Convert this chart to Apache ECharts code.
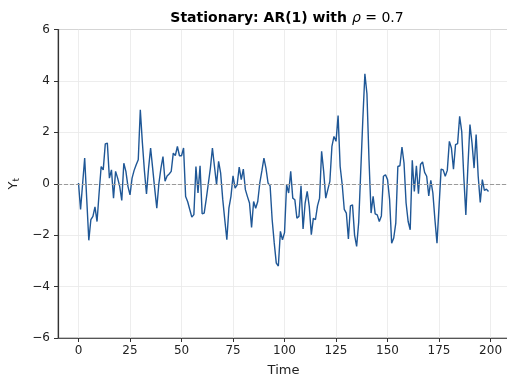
<!DOCTYPE html>
<html>
<head>
<meta charset="utf-8">
<script src="https://cdn.jsdelivr.net/npm/echarts@6/dist/echarts.min.js"></script>
<style>
  html, body { margin: 0; padding: 0; background: #fff; }
  #chart { width: 507px; height: 377px; }
</style>
</head>
<body>
<div id="chart"></div>
<script>
// AR(1) serie, rho = 0.7, t = 0..199
var yValues = [
  0.03, -1.0, 0.0, 1.0, -0.6, -2.2, -1.4, -1.27, -0.9, -1.47,
  -0.36, 0.67, 0.54, 1.55, 1.58, 0.22, 0.54, -0.56, 0.48, 0.22,
  -0.1, -0.65, 0.8, 0.48, -0.1, -0.43, 0.22, 0.52, 0.74, 0.93,
  2.88, 1.6, 0.5, -0.4, 0.6, 1.39, 0.6, -0.2, -0.95, 0.0,
  0.6, 1.06, 0.1, 0.3, 0.38, 0.48, 1.19, 1.1, 1.45, 1.09,
  1.09, 1.39, -0.5, -0.7, -1.0, -1.3, -1.2, 0.67, -0.36, 0.7,
  -1.17, -1.14, -0.6, 0.0, 0.6, 1.39, 0.67, -0.04, 0.87, 0.41,
  -0.6, -1.4, -2.18, -0.95, -0.49, 0.31, -0.17, -0.04, 0.65, 0.16,
  0.57, -0.23, -0.5, -0.75, -1.7, -0.69, -0.95, -0.69, 0.03, 0.5,
  1.0, 0.6, 0.03, -0.08, -1.4, -2.3, -3.09, -3.2, -1.85, -2.18,
  -1.9, -0.04, -0.36, 0.48, -0.56, -0.62, -1.34, -1.27, -0.08, -1.76,
  -0.75, -0.3, -0.88, -1.98, -1.34, -1.4, -0.86, -0.56, 1.26, 0.48,
  -0.56, -0.23, 0.09, 1.45, 1.84, 1.65, 2.65, 0.67, -0.04, -1.0,
  -1.14, -2.15, -0.86, -0.82, -2.0, -2.44, -1.5, 0.5, 2.5, 4.28,
  3.5, 0.93, -1.14, -0.49, -1.17, -1.21, -1.47, -1.25, 0.29, 0.35,
  0.16, -0.62, -2.31, -2.11, -1.53, 0.67, 0.7, 1.43, 0.8, -0.75,
  -1.47, -1.79, 0.91, -0.3, 0.7, -0.39, 0.75, 0.85, 0.44, 0.29,
  -0.47, 0.13, -0.36, -1.4, -2.31, -0.88, 0.57, 0.54, 0.29, 0.52,
  1.65, 1.39, 0.57, 1.52, 1.56, 2.62, 2.04, 0.29, -1.21, 0.67,
  2.3, 1.58, 0.61, 1.91, 0.29, -0.73, 0.16, -0.26, -0.21, -0.3
];
var xTicks = [0, 25, 50, 75, 100, 125, 150, 175, 200];

var points = [];
for (var i = 0; i < yValues.length; i++) {
  points.push([i, yValues[i]]);
}

var chart = echarts.init(document.getElementById('chart'));
var font = 'DejaVu Sans';

var option = {
  animation: false,
  backgroundColor: '#fff',
  title: {
    text: '{b|Stationary: AR(1) with }{i|ρ}{n| = 0.7}',
    left: 282,
    top: 6,
    textAlign: 'center',
    textStyle: {
      rich: {
        b: { fontFamily: font, fontSize: 14, fontWeight: 'bold', color: '#000' },
        i: { fontFamily: font, fontSize: 14, fontWeight: 'normal', fontStyle: 'italic', color: '#000' },
        n: { fontFamily: font, fontSize: 14, fontWeight: 'normal', color: '#000' }
      }
    }
  },
  grid: {
    left: 58, right: -2, top: 29.5, bottom: 39,
    outerBoundsMode: 'none',
    containLabel: false,
    show: true, borderColor: '#888', borderWidth: 1
  },
  xAxis: {
    type: 'value',
    min: -9.95,
    max: 208.95,
    name: 'Time',
    nameLocation: 'middle',
    nameGap: 26,
    nameTextStyle: { fontFamily: font, fontSize: 13, color: '#222' },
    axisLine: { onZero: false, lineStyle: { color: '#555', width: 1.2 } },
    axisTick: { show: true, length: 4, customValues: xTicks, lineStyle: { color: '#333' } },
    axisLabel: {
      customValues: xTicks,
      fontFamily: font, fontSize: 12, color: '#222', margin: 7
    },
    splitLine: { show: true, lineStyle: { color: '#e8e8e8', width: 0.8 } }
  },
  yAxis: {
    type: 'value',
    min: -6,
    max: 6,
    interval: 2,
    name: '{a|Y}{s|t}',
    nameLocation: 'middle',
    nameRotate: 90,
    nameGap: 33,
    nameTextStyle: {
      rich: {
        a: { fontFamily: font, fontSize: 13, color: '#222' },
        s: { fontFamily: font, fontSize: 9, color: '#222', verticalAlign: 'bottom', padding: [6, 0, 0, 0] }
      }
    },
    axisLine: { show: true, onZero: false, lineStyle: { color: '#333', width: 1.2 } },
    axisTick: { show: true, length: 4, lineStyle: { color: '#333' } },
    axisLabel: {
      fontFamily: font, fontSize: 12, color: '#222', margin: 8,
      formatter: function (v) { return v < 0 ? '\u2212' + (-v) : String(v); }
    },
    splitLine: { show: true, lineStyle: { color: '#e8e8e8', width: 0.8 } }
  },
  series: [{
    type: 'line',
    data: points,
    showSymbol: false,
    lineStyle: { color: '#1f5796', width: 1.4 },
    markLine: {
      silent: true,
      symbol: 'none',
      label: { show: false },
      lineStyle: { color: '#9a9a9a', type: [4, 2], width: 1.2 },
      data: [{ yAxis: 0 }]
    },
    z: 3
  }]
};
chart.setOption(option);
</script>
</body>
</html>
